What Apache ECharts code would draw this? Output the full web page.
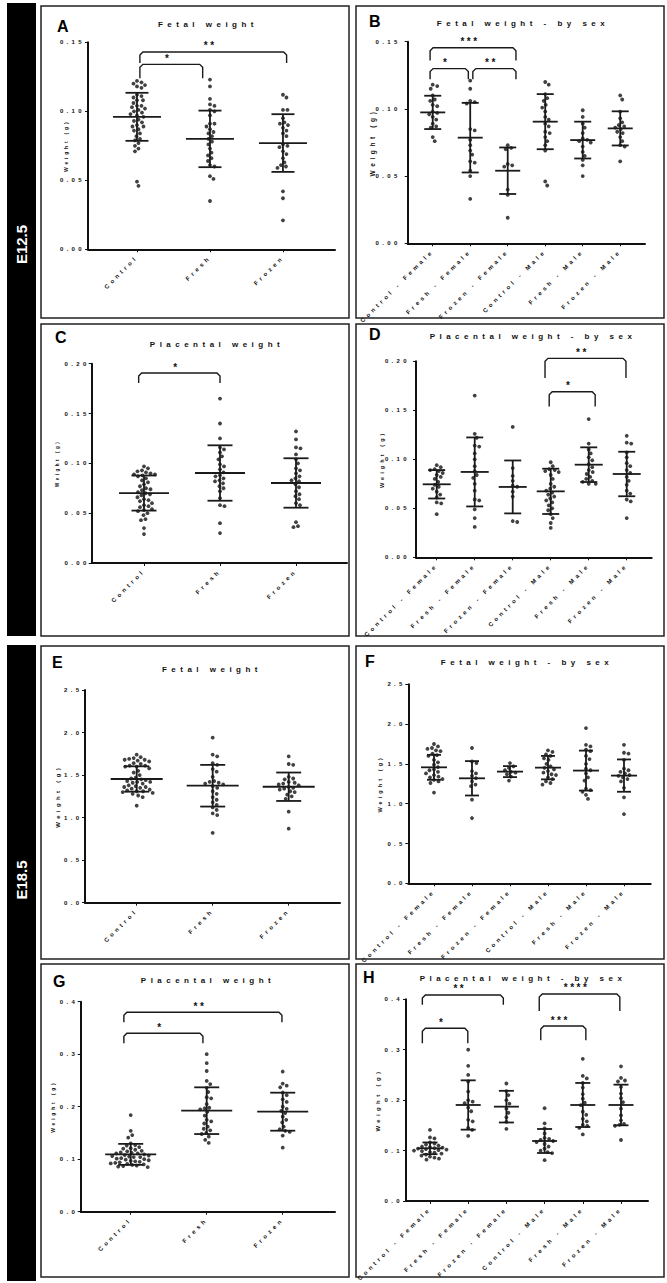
<!DOCTYPE html>
<html>
<head>
<meta charset="utf-8">
<script src="https://cdn.jsdelivr.net/npm/echarts@6/dist/echarts.min.js"></script>
<style>
html, body { margin: 0; padding: 0; background: #fff; }
#main { width: 667px; height: 1283px; }
</style>
</head>
<body>
<div id="main"></div>
<script>
// categories
var groups3 = ['Control', 'Fresh', 'Frozen'];
var groups6 = ['Control - Female', 'Fresh - Female', 'Frozen - Female', 'Control - Male', 'Fresh - Male', 'Frozen - Male'];

// A - fetal weight E12.5 (g)
var fetal125 = [
    [0.122, 0.121, 0.12, 0.119, 0.118, 0.117, 0.112, 0.111, 0.11, 0.108, 0.108, 0.106, 0.104, 0.104, 0.103, 0.102, 0.101, 0.1, 0.099, 0.098, 0.097, 0.096, 0.094, 0.093, 0.092, 0.09, 0.089, 0.089, 0.087, 0.086, 0.084, 0.082, 0.08, 0.079, 0.077, 0.075, 0.073, 0.071, 0.049, 0.046],
    [0.123, 0.118, 0.109, 0.105, 0.104, 0.101, 0.1, 0.097, 0.091, 0.091, 0.089, 0.087, 0.085, 0.084, 0.082, 0.08, 0.078, 0.076, 0.073, 0.07, 0.068, 0.066, 0.064, 0.061, 0.06, 0.053, 0.051, 0.035],
    [0.112, 0.11, 0.101, 0.101, 0.095, 0.092, 0.091, 0.09, 0.088, 0.086, 0.084, 0.082, 0.076, 0.075, 0.074, 0.071, 0.069, 0.066, 0.063, 0.061, 0.06, 0.059, 0.042, 0.037, 0.021]
];
var fetal125Mean = [0.096, 0.080, 0.077];
var fetal125Sd = [0.0174, 0.0205, 0.0209];
var fetal125Sig = [['*', 1.04, 1.9, 0.134, 0.124], ['**', 1.04, 3.05, 0.143, 0.135]];

// B - fetal weight by sex E12.5
var fetalSex125 = [
    [0.118, 0.117, 0.115, 0.11, 0.107, 0.106, 0.103, 0.102, 0.098, 0.097, 0.096, 0.094, 0.092, 0.089, 0.087, 0.086, 0.079, 0.076],
    [0.121, 0.115, 0.106, 0.105, 0.104, 0.085, 0.084, 0.077, 0.073, 0.069, 0.066, 0.061, 0.06, 0.054, 0.05, 0.033],
    [0.073, 0.071, 0.07, 0.059, 0.058, 0.057, 0.04, 0.036, 0.019],
    [0.12, 0.118, 0.111, 0.108, 0.106, 0.103, 0.101, 0.098, 0.094, 0.092, 0.089, 0.087, 0.083, 0.082, 0.079, 0.076, 0.073, 0.069, 0.046, 0.043],
    [0.099, 0.094, 0.089, 0.086, 0.082, 0.078, 0.077, 0.076, 0.075, 0.072, 0.068, 0.065, 0.062, 0.058, 0.05],
    [0.11, 0.107, 0.098, 0.093, 0.09, 0.088, 0.087, 0.086, 0.085, 0.083, 0.082, 0.079, 0.076, 0.073, 0.072, 0.061]
];
var fetalSex125Mean = [0.0974, 0.0786, 0.054, 0.0905, 0.0768, 0.0855];
var fetalSex125Sd = [0.0124, 0.0259, 0.0173, 0.0205, 0.0137, 0.0127];
var fetalSex125Sig = [['*', 0.93, 1.95, 0.130, 0.122], ['**', 2.07, 3.22, 0.130, 0.122], ['***', 0.93, 3.22, 0.1455, 0.136]];

// C - placental weight E12.5
var placenta125 = [
    [0.097, 0.095, 0.093, 0.092, 0.091, 0.09, 0.089, 0.089, 0.088, 0.087, 0.085, 0.083, 0.081, 0.079, 0.077, 0.075, 0.074, 0.073, 0.071, 0.07, 0.069, 0.068, 0.066, 0.064, 0.063, 0.062, 0.06, 0.058, 0.057, 0.056, 0.054, 0.053, 0.052, 0.05, 0.048, 0.044, 0.043, 0.035, 0.029],
    [0.165, 0.14, 0.125, 0.116, 0.114, 0.111, 0.107, 0.104, 0.099, 0.097, 0.094, 0.091, 0.088, 0.087, 0.085, 0.083, 0.082, 0.08, 0.077, 0.075, 0.072, 0.065, 0.058, 0.057, 0.04, 0.03],
    [0.132, 0.124, 0.116, 0.115, 0.109, 0.104, 0.1, 0.095, 0.093, 0.09, 0.087, 0.085, 0.083, 0.082, 0.079, 0.076, 0.072, 0.069, 0.067, 0.064, 0.06, 0.058, 0.041, 0.037, 0.036]
];
var placenta125Mean = [0.0702, 0.0903, 0.0803];
var placenta125Sd = [0.0176, 0.0278, 0.0248];
var placenta125Sig = [['*', 0.93, 2.0, 0.1906, 0.1806]];

// D - placental weight by sex E12.5
var placentaSex125 = [
    [0.094, 0.092, 0.09, 0.089, 0.088, 0.086, 0.084, 0.082, 0.08, 0.077, 0.074, 0.072, 0.07, 0.067, 0.064, 0.061, 0.056, 0.055, 0.044],
    [0.165, 0.126, 0.122, 0.114, 0.113, 0.106, 0.1, 0.093, 0.088, 0.084, 0.081, 0.075, 0.068, 0.059, 0.058, 0.049, 0.04, 0.031],
    [0.133, 0.091, 0.083, 0.078, 0.073, 0.072, 0.067, 0.062, 0.037, 0.036],
    [0.097, 0.093, 0.09, 0.089, 0.088, 0.087, 0.084, 0.08, 0.075, 0.072, 0.07, 0.068, 0.066, 0.064, 0.062, 0.06, 0.058, 0.056, 0.053, 0.05, 0.048, 0.044, 0.04, 0.035, 0.03],
    [0.141, 0.116, 0.11, 0.106, 0.102, 0.099, 0.095, 0.092, 0.089, 0.087, 0.085, 0.082, 0.08, 0.078, 0.077, 0.075, 0.075],
    [0.124, 0.117, 0.116, 0.107, 0.102, 0.096, 0.093, 0.089, 0.086, 0.082, 0.078, 0.074, 0.068, 0.065, 0.059, 0.057, 0.04]
];
var placentaSex125Mean = [0.0745, 0.0871, 0.0718, 0.0673, 0.0945, 0.085];
var placentaSex125Sd = [0.0145, 0.0352, 0.027, 0.0231, 0.0177, 0.0227];
var placentaSex125Sig = [['*', 3.96, 5.17, 0.169, 0.154], ['**', 3.85, 5.98, 0.203, 0.183]];

// E - fetal weight E18.5
var fetal185 = [
    [1.74, 1.71, 1.7, 1.69, 1.68, 1.68, 1.67, 1.66, 1.64, 1.63, 1.61, 1.61, 1.6, 1.6, 1.58, 1.55, 1.53, 1.5, 1.47, 1.46, 1.45, 1.44, 1.43, 1.42, 1.42, 1.41, 1.4, 1.38, 1.37, 1.36, 1.36, 1.35, 1.34, 1.33, 1.32, 1.31, 1.31, 1.3, 1.29, 1.28, 1.26, 1.24, 1.14],
    [1.94, 1.74, 1.72, 1.64, 1.62, 1.57, 1.54, 1.48, 1.43, 1.42, 1.41, 1.4, 1.39, 1.37, 1.35, 1.31, 1.28, 1.24, 1.21, 1.18, 1.15, 1.12, 1.09, 1.05, 1.03, 0.82],
    [1.72, 1.63, 1.62, 1.48, 1.46, 1.45, 1.42, 1.41, 1.4, 1.39, 1.38, 1.36, 1.35, 1.34, 1.33, 1.31, 1.3, 1.27, 1.25, 1.22, 1.07, 0.87]
];
var fetal185Mean = [1.454, 1.375, 1.363];
var fetal185Sd = [0.149, 0.245, 0.167];
var fetal185Sig = [];

// F - fetal weight by sex E18.5
var fetalSex185 = [
    [1.75, 1.72, 1.7, 1.69, 1.67, 1.66, 1.63, 1.61, 1.6, 1.55, 1.52, 1.49, 1.46, 1.43, 1.42, 1.4, 1.38, 1.36, 1.34, 1.33, 1.31, 1.3, 1.28, 1.26, 1.14],
    [1.7, 1.53, 1.51, 1.41, 1.38, 1.35, 1.32, 1.28, 1.24, 1.22, 1.05, 0.82],
    [1.51, 1.47, 1.45, 1.42, 1.4, 1.39, 1.37, 1.34, 1.29],
    [1.67, 1.65, 1.62, 1.6, 1.57, 1.55, 1.5, 1.47, 1.45, 1.43, 1.41, 1.39, 1.37, 1.36, 1.33, 1.31, 1.28, 1.26, 1.24],
    [1.95, 1.74, 1.72, 1.68, 1.66, 1.6, 1.56, 1.5, 1.44, 1.42, 1.38, 1.33, 1.29, 1.19, 1.17, 1.15, 1.11, 1.06],
    [1.74, 1.64, 1.63, 1.55, 1.44, 1.42, 1.4, 1.38, 1.36, 1.35, 1.33, 1.31, 1.28, 1.2, 1.08, 0.87]
];
var fetalSex185Mean = [1.457, 1.319, 1.403, 1.453, 1.416, 1.353];
var fetalSex185Sd = [0.157, 0.216, 0.069, 0.147, 0.251, 0.203];
var fetalSex185Sig = [];

// G - placental weight E18.5
var placenta185 = [
    [0.184, 0.154, 0.146, 0.141, 0.13, 0.127, 0.126, 0.123, 0.121, 0.12, 0.118, 0.116, 0.115, 0.113, 0.112, 0.111, 0.111, 0.109, 0.108, 0.107, 0.106, 0.105, 0.104, 0.104, 0.102, 0.101, 0.1, 0.099, 0.098, 0.097, 0.096, 0.095, 0.094, 0.093, 0.092, 0.091, 0.09, 0.089, 0.088, 0.087, 0.086, 0.085],
    [0.3, 0.283, 0.268, 0.249, 0.243, 0.236, 0.228, 0.218, 0.216, 0.205, 0.198, 0.197, 0.195, 0.19, 0.183, 0.175, 0.172, 0.168, 0.162, 0.158, 0.155, 0.15, 0.148, 0.143, 0.137, 0.131],
    [0.267, 0.244, 0.24, 0.237, 0.227, 0.222, 0.214, 0.209, 0.2, 0.196, 0.192, 0.188, 0.181, 0.175, 0.17, 0.162, 0.157, 0.154, 0.152, 0.145, 0.122]
];
var placenta185Mean = [0.1092, 0.1924, 0.1905];
var placenta185Sd = [0.02, 0.0445, 0.0362];
var placenta185Sig = [['*', 0.91, 1.95, 0.34, 0.321], ['**', 0.91, 2.99, 0.38, 0.361]];

// H - placental weight by sex E18.5
var placentaSex185 = [
    [0.141, 0.126, 0.124, 0.116, 0.114, 0.112, 0.11, 0.108, 0.107, 0.106, 0.105, 0.104, 0.103, 0.102, 0.101, 0.1, 0.099, 0.097, 0.096, 0.094, 0.092, 0.09, 0.088, 0.086, 0.084, 0.082],
    [0.3, 0.268, 0.25, 0.237, 0.217, 0.2, 0.197, 0.194, 0.185, 0.178, 0.161, 0.158, 0.145, 0.141, 0.129],
    [0.233, 0.218, 0.21, 0.2, 0.193, 0.183, 0.175, 0.166, 0.157, 0.143],
    [0.184, 0.154, 0.144, 0.134, 0.125, 0.123, 0.121, 0.119, 0.117, 0.113, 0.108, 0.104, 0.1, 0.097, 0.095, 0.081],
    [0.282, 0.248, 0.243, 0.234, 0.225, 0.212, 0.203, 0.195, 0.19, 0.177, 0.171, 0.163, 0.158, 0.151, 0.149, 0.145, 0.132],
    [0.267, 0.244, 0.239, 0.237, 0.226, 0.213, 0.204, 0.196, 0.183, 0.17, 0.16, 0.153, 0.151, 0.149, 0.121]
];
var placentaSex185Mean = [0.1045, 0.1904, 0.1871, 0.119, 0.1904, 0.1904];
var placentaSex185Sd = [0.0116, 0.0489, 0.0314, 0.0238, 0.0437, 0.0403];
var placentaSex185Sig = [['**', 0.8, 2.92, 0.4086, 0.389], ['*', 0.8, 1.99, 0.3425, 0.313], ['****', 3.86, 5.97, 0.4106, 0.377], ['***', 3.9, 5.08, 0.347, 0.319]];

var panels = [
    {letter: 'A', title: 'Fetal weight', cats: groups3, data: fetal125, mean: fetal125Mean, sd: fetal125Sd, sig: fetal125Sig, yMax: 0.15, yStep: 0.05, digits: 2},
    {letter: 'B', title: 'Fetal weight - by sex', cats: groups6, data: fetalSex125, mean: fetalSex125Mean, sd: fetalSex125Sd, sig: fetalSex125Sig, yMax: 0.15, yStep: 0.05, digits: 2},
    {letter: 'C', title: 'Placental weight', cats: groups3, data: placenta125, mean: placenta125Mean, sd: placenta125Sd, sig: placenta125Sig, yMax: 0.2, yStep: 0.05, digits: 2},
    {letter: 'D', title: 'Placental weight - by sex', cats: groups6, data: placentaSex125, mean: placentaSex125Mean, sd: placentaSex125Sd, sig: placentaSex125Sig, yMax: 0.2, yStep: 0.05, digits: 2},
    {letter: 'E', title: 'Fetal weight', cats: groups3, data: fetal185, mean: fetal185Mean, sd: fetal185Sd, sig: fetal185Sig, yMax: 2.5, yStep: 0.5, digits: 1},
    {letter: 'F', title: 'Fetal weight - by sex', cats: groups6, data: fetalSex185, mean: fetalSex185Mean, sd: fetalSex185Sd, sig: fetalSex185Sig, yMax: 2.5, yStep: 0.5, digits: 1},
    {letter: 'G', title: 'Placental weight', cats: groups3, data: placenta185, mean: placenta185Mean, sd: placenta185Sd, sig: placenta185Sig, yMax: 0.4, yStep: 0.1, digits: 1},
    {letter: 'H', title: 'Placental weight - by sex', cats: groups6, data: placentaSex185, mean: placentaSex185Mean, sd: placentaSex185Sd, sig: placentaSex185Sig, yMax: 0.4, yStep: 0.1, digits: 1}
];

// pixel layout of each panel: box, grid [l, t, r, b], x range, title pos, letter pos...
var layout = [
    {box: [41, 6, 312], grid: [88, 42.3, 335, 249.3], xr: [0.329, 3.713], title: [208, 25], letter: [57, 26], nameGap: 19.5, nameSize: 5, tickMargin: 3, meanW: 48, capW: 23},
    {box: [356, 6, 312], grid: [407.7, 41.7, 645, 243.3], xr: [0.333, 6.661], title: [523, 24], letter: [369, 21.5], nameGap: 32, nameSize: 6.5, tickMargin: 7, meanW: 25, capW: 17},
    {box: [41, 324, 312], grid: [91.7, 363.7, 347, 563], xr: [0.312, 3.671], title: [217, 345], letter: [55, 337], nameGap: 32, nameSize: 4.5, tickMargin: 2, meanW: 50, capW: 25},
    {box: [356, 324, 312], grid: [416, 361.3, 651.7, 557.3], xr: [0.455, 6.657], title: [533, 337], letter: [369, 334], nameGap: 31, nameSize: 5.5, tickMargin: 6, meanW: 28, capW: 17},
    {box: [41, 646, 313], grid: [85, 690, 340, 902.7], xr: [0.32, 3.675], title: [212, 670], letter: [52, 662.5], nameGap: 24.5, nameSize: 6, tickMargin: 2.5, meanW: 52, capW: 25},
    {box: [356, 646, 313], grid: [408.3, 684.3, 650.7, 883.3], xr: [0.324, 6.703], title: [527, 663], letter: [365, 661], nameGap: 25, nameSize: 5.5, tickMargin: 2.5, meanW: 26, capW: 14},
    {box: [41, 964, 313], grid: [80.7, 1001.7, 335, 1211.7], xr: [0.342, 3.688], title: [208, 981], letter: [53, 981], nameGap: 25.5, nameSize: 5, tickMargin: 2.5, meanW: 51, capW: 25},
    {box: [356, 964, 313], grid: [406, 999.3, 648, 1201], xr: [0.372, 6.707], title: [523, 979], letter: [363, 977.5], nameGap: 25, nameSize: 6, tickMargin: 3, meanW: 25, capW: 15}
];

var INK = '#111';
var FONT = 'Liberation Sans, Arial, sans-serif';

// beeswarm: spread dots sideways so they do not overlap (pixel space)
function swarm(values, cat, pxX, pxY, gap) {
    var placed = [];
    var idx = values.map(function (v, i) { return i; });
    idx.sort(function (a, b) { return values[b] - values[a]; });
    var out = [];
    idx.forEach(function (i) {
        var py = values[i] * pxY;
        var px = 0;
        for (var k = 0; k < 400; k++) {
            var c = (k % 2 ? 1 : -1) * Math.ceil(k / 2) * 0.5;
            var ok = placed.every(function (p) {
                var dx = c - p[0], dy = py - p[1];
                return dx * dx + dy * dy >= gap * gap;
            });
            if (ok) { px = c; break; }
        }
        placed.push([px, py]);
        out.push([cat + px / pxX, values[i]]);
    });
    return out;
}

function errRender(meanW, capW) {
    return function (params, api) {
        var x = api.value(0), m = api.value(1), s = api.value(2);
        var c = api.coord([x, m]), hi = api.coord([x, m + s]), lo = api.coord([x, m - s]);
        function ln(x1, y1, x2, y2) {
            return {type: 'line', shape: {x1: x1, y1: y1, x2: x2, y2: y2}, style: {stroke: '#1a1a1a', lineWidth: 1.8}};
        }
        return {type: 'group', children: [
            ln(c[0] - meanW / 2, c[1], c[0] + meanW / 2, c[1]),
            ln(hi[0], hi[1], lo[0], lo[1]),
            ln(hi[0] - capW / 2, hi[1], hi[0] + capW / 2, hi[1]),
            ln(lo[0] - capW / 2, lo[1], lo[0] + capW / 2, lo[1])
        ]};
    };
}

function sigRender(sig) {
    return function (params, api) {
        var b = sig[params.dataIndex];
        var a = api.coord([b[1], b[4]]), t1 = api.coord([b[1], b[3]]), t2 = api.coord([b[2], b[3]]), z = api.coord([b[2], b[4]]);
        var r = 3;
        return {type: 'group', children: [
            {type: 'polyline', shape: {points: [[a[0], a[1]], [t1[0], t1[1] + r], [t1[0] + r, t1[1]], [t2[0] - r, t2[1]], [t2[0], t2[1] + r], [z[0], z[1]]]},
             style: {stroke: '#1a1a1a', lineWidth: 1.4, fill: 'none'}},
            {type: 'text', x: (t1[0] + t2[0]) / 2 - 3, y: t1[1] - 1,
             style: {text: b[0], fill: INK, fontSize: 10, fontWeight: 'bold', fontFamily: FONT, textAlign: 'center', textVerticalAlign: 'bottom'}}
        ]};
    };
}

var grids = [], xAxes = [], yAxes = [], series = [], titles = [];
var graphics = [
    {type: 'rect', shape: {x: 7, y: 3, width: 29, height: 633}, style: {fill: '#000'}},
    {type: 'rect', shape: {x: 7, y: 645, width: 29, height: 636}, style: {fill: '#000'}},
    {type: 'text', x: 21.5, y: 244.5, rotation: Math.PI / 2,
     style: {text: 'E12.5', fill: '#fff', fontSize: 15, fontWeight: 'bold', fontFamily: FONT, textAlign: 'center', textVerticalAlign: 'middle'}},
    {type: 'text', x: 21.5, y: 880, rotation: Math.PI / 2,
     style: {text: 'E18.5', fill: '#fff', fontSize: 15, fontWeight: 'bold', fontFamily: FONT, textAlign: 'center', textVerticalAlign: 'middle'}}
];

panels.forEach(function (p, i) {
    var L = layout[i];
    var g = L.grid;
    var w = g[2] - g[0], h = g[3] - g[1];
    var pxX = w / (L.xr[1] - L.xr[0]);
    var pxY = h / p.yMax;
    var ticks = p.cats.map(function (c, k) { return k + 1; });

    grids.push({left: g[0], top: g[1], width: w, height: h, containLabel: false, outerBoundsMode: 'none'});

    xAxes.push({
        gridIndex: i, type: 'value', min: L.xr[0], max: L.xr[1],
        splitLine: {show: false},
        axisLine: {onZero: false, lineStyle: {color: INK, width: 2}},
        axisTick: {customValues: ticks, length: 3, lineStyle: {color: INK, width: 1}},
        axisLabel: {
            customValues: ticks, rotate: 45, margin: 7,
            formatter: function (v) { return p.cats[Math.round(v) - 1]; },
            fontSize: 6, fontWeight: 'bold', fontFamily: FONT, color: INK
        }
    });

    yAxes.push({
        gridIndex: i, type: 'value', min: 0, max: p.yMax, interval: p.yStep,
        splitLine: {show: false},
        axisLine: {show: true, lineStyle: {color: INK, width: 2}},
        axisTick: {show: true, length: 3, lineStyle: {color: INK, width: 1}},
        axisLabel: {
            margin: L.tickMargin,
            formatter: function (v) { return v.toFixed(p.digits); },
            fontSize: 6, fontWeight: 'bold', fontFamily: FONT, color: INK
        },
        name: 'Weight (g)', nameLocation: 'middle', nameGap: L.nameGap,
        nameTextStyle: {fontSize: L.nameSize, fontWeight: 'bold', fontFamily: FONT, color: INK}
    });

    var dots = [];
    p.data.forEach(function (vals, k) {
        dots = dots.concat(swarm(vals, k + 1, pxX, pxY, 4.4));
    });
    series.push({
        type: 'scatter', xAxisIndex: i, yAxisIndex: i, data: dots,
        symbolSize: 3.8, itemStyle: {color: INK}, z: 2, silent: true
    });

    series.push({
        type: 'custom', xAxisIndex: i, yAxisIndex: i, z: 3, silent: true,
        data: p.mean.map(function (m, k) { return [k + 1, m, p.sd[k]]; }),
        encode: {x: 0, y: 1},
        renderItem: errRender(L.meanW, L.capW)
    });

    if (p.sig.length) {
        series.push({
            type: 'custom', xAxisIndex: i, yAxisIndex: i, z: 3, silent: true, clip: false,
            data: p.sig.map(function (b) { return [b[1], b[2], b[3], b[4]]; }),
            encode: {x: [0, 1], y: [2, 3]},
            renderItem: sigRender(p.sig)
        });
    }

    titles.push({
        text: p.title, left: L.title[0], top: L.title[1] - 5, textAlign: 'center', padding: 0,
        textStyle: {fontSize: 8, fontWeight: 'bold', fontFamily: FONT, color: INK}
    });

    graphics.push({type: 'rect', shape: {x: L.box[0], y: L.box[1], width: 308, height: L.box[2]},
        style: {fill: 'none', stroke: '#222', lineWidth: 1.5}});
    graphics.push({type: 'text', x: L.letter[0], y: L.letter[1],
        style: {text: p.letter, fill: '#000', fontSize: 16, fontWeight: 'bold', fontFamily: FONT, textAlign: 'left', textVerticalAlign: 'middle'}});
});

var myChart = echarts.init(document.getElementById('main'), null, {renderer: 'svg'});
option = {
    animation: false,
    backgroundColor: '#fff',
    title: titles,
    grid: grids,
    xAxis: xAxes,
    yAxis: yAxes,
    graphic: graphics,
    series: series
};
myChart.setOption(option);

// GraphPad-style wide letter spacing on the small texts
function spaceText() {
    var nodes = document.querySelectorAll('#main text');
    for (var i = 0; i < nodes.length; i++) {
        var t = nodes[i];
        var fs = parseFloat(getComputedStyle(t).fontSize) || 12;
        var s = fs >= 12 ? 0 : fs * 0.56;
        if (/^\*+$/.test(t.textContent)) s = 2.5;
        t.style.letterSpacing = s + 'px';
    }
}
myChart.on('finished', spaceText);
spaceText();
</script>
</body>
</html>
